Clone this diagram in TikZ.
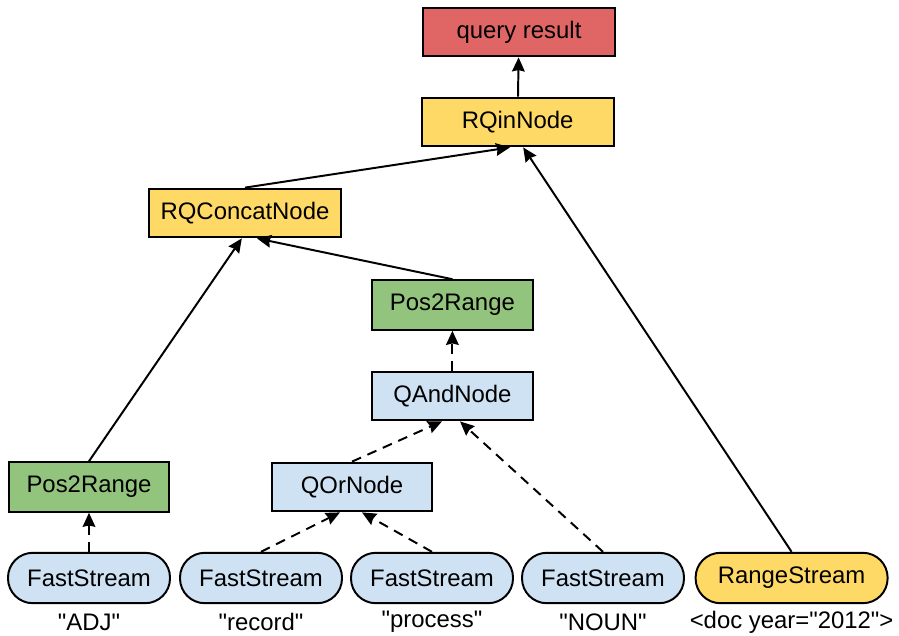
\documentclass[tikz,border=0pt]{standalone}
\usepackage{fontspec}
\setmainfont{Liberation Sans}
\usepackage{tikz}
\usetikzlibrary{shapes.geometric, arrows.meta}
\definecolor{resred}{HTML}{E06666}
\definecolor{opyellow}{HTML}{FFD966}
\definecolor{convgreen}{HTML}{93C47D}
\definecolor{qblue}{HTML}{CFE2F3}
\tikzstyle{result} = [rectangle, draw, line width=1.4pt, minimum width=4.8cm, minimum height=1.22cm, text centered, fill=resred]
\tikzstyle{rqnode} = [rectangle, draw, line width=1.4pt, minimum width=4.8cm, minimum height=1.22cm, text centered, fill=opyellow]
\tikzstyle{convert} = [rectangle, draw, line width=1.4pt, minimum width=4.02cm, minimum height=1.24cm, text centered, fill=convgreen]
\tikzstyle{qnode} = [rectangle, draw, line width=1.4pt, minimum width=4.02cm, minimum height=1.22cm, text centered, fill=qblue]
\tikzstyle{stream} = [rectangle, rounded corners=0.62cm, draw, line width=1.4pt, minimum width=4.05cm, minimum height=1.26cm, text centered, fill=qblue]
\tikzstyle{rstream} = [stream, minimum width=4.8cm, fill=opyellow]
\tikzstyle{term} = [text centered]
\tikzstyle{arrow} = [line width=1.4pt,-{Stealth[length=10pt,width=9pt,inset=1pt]}]
\tikzstyle{dasharrow} = [arrow, dash pattern=on 7pt off 5pt]

\begin{document}
\begin{tikzpicture}[font=\fontsize{17}{20}\selectfont]
            \useasboundingbox (0,0) rectangle (22.475,-15.9);
            \node [result] at (12.975,-0.8) (result) {query result};
            \node [rqnode] at (12.94,-3.05) (rqin) {RQinNode};
            \node [rqnode] at (6.125,-5.325) (concat) {RQConcatNode};
            \node [convert] at (11.31,-7.625) (conv2) {Pos2Range};
            \node [qnode] at (11.31,-9.9) (qand) {QAndNode};
            \node [convert] at (2.225,-12.175) (conv1) {Pos2Range};
            \node [qnode] at (8.8,-12.175) (qor) {QOrNode};
            \node [stream] at (2.225,-14.45) (fs1) {FastStream};
            \node [stream] at (6.525,-14.45) (fs2) {FastStream};
            \node [stream] at (10.8,-14.45) (fs3) {FastStream};
            \node [stream] at (15.075,-14.45) (fs4) {FastStream};
            \node [rstream] at (19.79,-14.45) (rs) {RangeStream};
            \node [term] at (2.225,-15.55) (t1) {\textquotedbl ADJ\textquotedbl};
            \node [term] at (6.525,-15.55) (t2) {\textquotedbl record\textquotedbl};
            \node [term] at (10.8,-15.55) (t3) {\textquotedbl process\textquotedbl};
            \node [term] at (15.075,-15.55) (t4) {\textquotedbl NOUN\textquotedbl};
            \node [term] at (19.79,-15.55) (t5) {<doc year=\textquotedbl 2012\textquotedbl>};

            \draw [arrow] (rqin) -- (result);
            \draw [arrow] (concat.north) -- ([xshift=-0.19cm]rqin.south);
            \draw [arrow] (rs.north) -- ([xshift=0.14cm]rqin.south);
            \draw [arrow] (conv1.north) -- ([xshift=-0.08cm]concat.south);
            \draw [arrow] (conv2.north) -- ([xshift=0.3cm]concat.south);
            \draw [dasharrow] (qand) -- (conv2);
            \draw [dasharrow] (qor.north) -- ([xshift=-0.26cm]qand.south);
            \draw [dasharrow] (fs4.north) -- ([xshift=0.19cm]qand.south);
            \draw [dasharrow] (fs2.north) -- ([xshift=-0.3cm]qor.south);
            \draw [dasharrow] (fs3.north) -- ([xshift=0.25cm]qor.south);
            \draw [dasharrow] (fs1) -- (conv1);
            \end{tikzpicture}
\end{document}
